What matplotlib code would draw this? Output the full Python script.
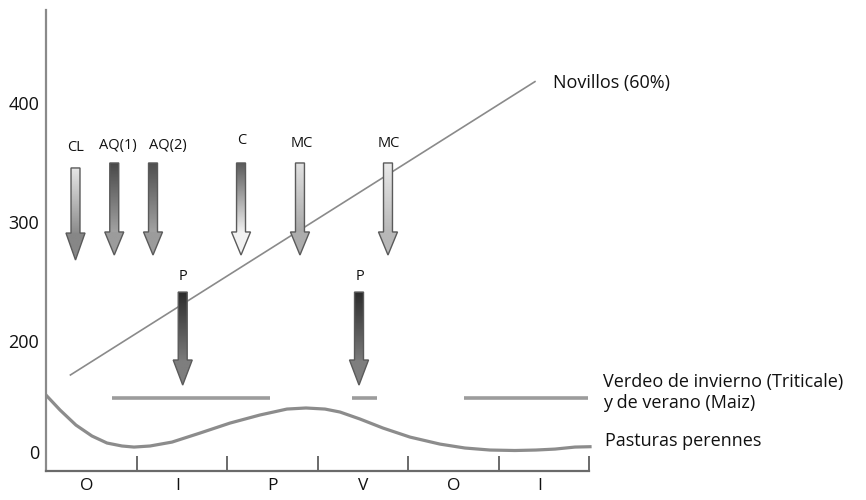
import numpy as np
import matplotlib
matplotlib.use("Agg")
import matplotlib.pyplot as plt
from matplotlib import font_manager
from matplotlib.patches import Polygon
from matplotlib.colors import to_rgb

plt.rcParams["font.family"] = ["Open Sans", "DejaVu Sans"]

installed = {f.name for f in font_manager.fontManager.ttflist}
if "Liberation Sans Narrow" in installed:
    LABEL_FONT, LABEL_SIZE = "Liberation Sans Narrow", 12.5
else:
    LABEL_FONT, LABEL_SIZE = "Open Sans", 10.5

# season axis: 0..6 (O I P V O I), values on the kg-like y scale
SEASONS = ["O", "I", "P", "V", "O", "I"]
SEASON_POS = [0.45, 1.45, 2.5, 3.5, 4.5, 5.45]
SEASON_TICKS = [1, 2, 3, 4, 5, 6]
YTICK_POS = [106, 200, 300, 400]
YTICK_LABELS = ["0", "200", "300", "400"]

# Novillos (60%) line
novillos_x = [0.27, 5.40]
novillos_y = [171, 418]

# Verdeo de invierno / verano segments
verdeo_segments = [(0.73, 2.47), (3.38, 3.66), (4.62, 5.99)]
verdeo_level = 151.6

# Pasturas perennes curve
pastura_x = [0.00, 0.155, 0.331, 0.508, 0.674, 0.839, 0.972, 1.149, 1.392, 1.701,
             2.032, 2.363, 2.661, 2.871, 3.081, 3.247, 3.468, 3.722, 4.020, 4.351,
             4.627, 4.903, 5.179, 5.411, 5.621, 5.842, 6.008]
pastura_y = [154.1, 141.5, 128.8, 119.6, 113.7, 111.2, 110.3, 111.2, 114.5, 122.1,
             130.5, 137.3, 142.3, 143.2, 142.3, 139.8, 133.9, 126.3, 118.7, 112.8,
             109.5, 107.8, 107.4, 107.8, 108.6, 110.3, 110.6]

# management arrows: label, x, top of shaft, start of head, tip
arrow_labels = ["CL", "AQ(1)", "AQ(2)", "C", "MC", "MC", "P", "P"]
arrow_x = [0.326, 0.754, 1.182, 2.154, 2.805, 3.777, 1.51, 3.457]
arrow_top = [345.3, 349.5, 349.5, 349.5, 349.5, 349.5, 240.8, 240.8]
arrow_head = [290.5, 291.4, 291.4, 291.4, 291.4, 291.4, 183.6, 183.6]
arrow_tip = [267.8, 272.0, 272.0, 272.0, 272.0, 272.0, 162.5, 162.5]
label_x = [0.331, 0.795, 1.347, 2.165, 2.827, 3.788, 1.513, 3.470]
label_y = [362.9, 364.6, 364.6, 368.8, 366.3, 366.3, 254.3, 254.3]
# shaft top colour, shaft bottom colour, head colour
arrow_colors = [
    ("#e8e8e8", "#8c8c8c", "#878787"),
    ("#474747", "#a2a2a2", "#9c9c9c"),
    ("#4d4d4d", "#a2a2a2", "#9c9c9c"),
    ("#585858", "#f0f0f0", "#f2f2f2"),
    ("#e2e2e2", "#a8a8a8", "#acacac"),
    ("#eaeaea", "#b8b8b8", "#b8b8b8"),
    ("#2c2c2c", "#7a7a7a", "#7e7e7e"),
    ("#2c2c2c", "#7a7a7a", "#7e7e7e"),
]

SHAFT_W = 0.099
HEAD_W = 0.21
XLIM = (0, 6.118)
YLIM = (90.4, 478.3)

fig = plt.figure(figsize=(8.66, 5), dpi=100)
ax = fig.add_axes([0.0531, 0.0586, 0.6397, 0.9214])
ax.set_facecolor("none")

ax.plot(novillos_x, novillos_y, color="#8a8a8a", lw=1.2)
for x0, x1 in verdeo_segments:
    ax.plot([x0, x1], [verdeo_level, verdeo_level], color="#9c9c9c", lw=2.6,
            solid_capstyle="butt")
ax.plot(pastura_x, pastura_y, color="#8c8c8c", lw=2.3)


def gradient_arrow(x, top, head, tip, cols):
    verts = [(x - SHAFT_W / 2, top), (x + SHAFT_W / 2, top), (x + SHAFT_W / 2, head),
             (x + HEAD_W / 2, head), (x, tip), (x - HEAD_W / 2, head),
             (x - SHAFT_W / 2, head)]
    poly = Polygon(verts, closed=True, facecolor="none", edgecolor="#5a5a5a",
                   lw=1.0, zorder=4, joinstyle="miter")
    ax.add_patch(poly)
    n = 200
    vs = np.linspace(top, tip, n)
    c_top, c_bot, c_head = (np.array(to_rgb(c)) for c in cols)
    img = np.zeros((n, 2, 3))
    for i, v in enumerate(vs):
        if v >= head:
            t = (top - v) / (top - head)
            img[i, :] = c_top * (1 - t) + c_bot * t
        else:
            img[i, :] = c_head
    im = ax.imshow(img, extent=(x - HEAD_W / 2, x + HEAD_W / 2, tip, top),
                   origin="upper", aspect="auto", zorder=3, interpolation="bilinear")
    im.set_clip_path(poly)


for i in range(len(arrow_labels)):
    gradient_arrow(arrow_x[i], arrow_top[i], arrow_head[i], arrow_tip[i], arrow_colors[i])
    ax.text(label_x[i], label_y[i], arrow_labels[i], ha="center", va="center",
            fontsize=LABEL_SIZE, family=[LABEL_FONT, "DejaVu Sans"], color="#111111")

ax.text(5.60, 416.8, "Novillos (60%)", ha="left", va="center", fontsize=13,
        color="#111111")
ax.text(6.151, 165.0, "Verdeo de invierno (Triticale)", ha="left", va="center",
        fontsize=13, color="#111111")
ax.text(6.151, 147.4, "y de verano (Maiz)", ha="left", va="center", fontsize=13,
        color="#111111")
ax.text(6.173, 115.4, "Pasturas perennes", ha="left", va="center", fontsize=13,
        color="#111111")

ax.set_xlim(*XLIM)
ax.set_ylim(*YLIM)

for s in ["top", "right"]:
    ax.spines[s].set_visible(False)
ax.spines["left"].set_color("#8a8a8a")
ax.spines["left"].set_linewidth(1.6)
ax.spines["bottom"].set_color("#6a6a6a")
ax.spines["bottom"].set_linewidth(1.6)
ax.spines["bottom"].set_bounds(0, 6)

ax.set_xticks(SEASON_TICKS)
ax.set_xticklabels([])
ax.tick_params(axis="x", which="major", direction="in", length=10.5, width=1.4,
               color="#6a6a6a")
ax.set_xticks(SEASON_POS, minor=True)
ax.set_xticklabels(SEASONS, minor=True, fontsize=12.5, color="#111111")
ax.tick_params(axis="x", which="minor", length=0, pad=5)

ax.set_yticks(YTICK_POS)
ax.set_yticklabels(YTICK_LABELS, fontsize=13, color="#111111")
ax.tick_params(axis="y", length=0, pad=5)

fig.savefig("out.png", dpi=100)
